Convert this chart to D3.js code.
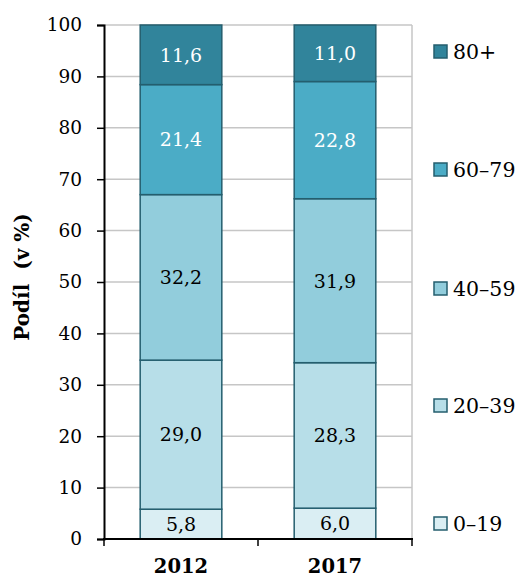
<!DOCTYPE html>
<meta charset="utf-8">
<style>
body { margin: 0; background: #fff; }
text { font-family: "DejaVu Serif", serif; }
</style>
<svg id="chart" width="522" height="579"></svg>
<script src="https://cdn.jsdelivr.net/npm/d3@7"></script>
<script>
var years = ["2012", "2017"];
var groups = ["0–19", "20–39", "40–59", "60–79", "80+"];
var values2012 = [5.8, 29.0, 32.2, 21.4, 11.6];
var values2017 = [6.0, 28.3, 31.9, 22.8, 11.0];
var yTicks = [0, 10, 20, 30, 40, 50, 60, 70, 80, 90, 100];

var colors = ["#daeef3", "#b7dee8", "#92cddc", "#4bacc6", "#31849b"];
var labelColors = ["#000", "#000", "#000", "#fff", "#fff"];

var svg = d3.select("#chart"),
  plotLeft = 104, plotRight = 412, plotTop = 25, plotBottom = 539;

var x = d3.scaleBand().domain(years).range([plotLeft, plotRight]).paddingInner(0.47).paddingOuter(0.235);
var y = d3.scaleLinear().domain([0, 100]).range([plotBottom, plotTop]);

// grid
svg.append("g").selectAll("line").data(yTicks.slice(1)).enter().append("line")
  .attr("x1", plotLeft).attr("x2", plotRight)
  .attr("y1", function(d){ return y(d); }).attr("y2", function(d){ return y(d); })
  .attr("stroke", "#c6c6c6").attr("stroke-width", 1.5);
svg.append("line").attr("x1", plotRight).attr("x2", plotRight).attr("y1", plotTop).attr("y2", plotBottom)
  .attr("stroke", "#c6c6c6").attr("stroke-width", 1.5);

var rows = years.map(function(yr, i){
  var vals = i == 0 ? values2012 : values2017;
  var acc = 0;
  return vals.map(function(v, k){
    var r = {year: yr, k: k, v: v, y0: acc, y1: acc + v};
    acc += v;
    return r;
  });
});
var segs = [].concat.apply([], rows);

svg.append("g").selectAll("rect").data(segs).enter().append("rect")
  .attr("x", function(d){ return x(d.year); })
  .attr("width", x.bandwidth())
  .attr("y", function(d){ return y(d.y1); })
  .attr("height", function(d){ return y(d.y0) - y(d.y1); })
  .attr("fill", function(d){ return colors[d.k]; })
  .attr("stroke", "#245e6e").attr("stroke-width", 1.5);

svg.append("g").selectAll("text").data(segs).enter().append("text")
  .attr("x", function(d){ return x(d.year) + x.bandwidth() / 2; })
  .attr("y", function(d){ return y((d.y0 + d.y1) / 2); })
  .attr("dy", "0.36em")
  .attr("text-anchor", "middle")
  .attr("font-size", 19)
  .attr("fill", function(d){ return labelColors[d.k]; })
  .text(function(d){ return d.v.toFixed(1).replace(".", ","); });

// y axis
var yAxis = svg.append("g").attr("transform", "translate(" + plotLeft + ",0)")
  .call(d3.axisLeft(y).tickValues(yTicks).tickSize(7).tickPadding(15));
yAxis.select(".domain").attr("stroke", "#000").attr("stroke-width", 2);
yAxis.selectAll(".tick line").attr("stroke", "#000").attr("stroke-width", 1.5);
yAxis.selectAll("text").attr("font-size", 18.5).attr("fill", "#000")
  .attr("font-family", "DejaVu Serif, serif");

// x axis
svg.append("line").attr("x1", plotLeft - 1).attr("x2", plotRight + 1).attr("y1", plotBottom).attr("y2", plotBottom)
  .attr("stroke", "#000").attr("stroke-width", 2);
svg.append("g").selectAll("line").data([plotLeft, (plotLeft + plotRight) / 2, plotRight]).enter().append("line")
  .attr("x1", function(d){ return d; }).attr("x2", function(d){ return d; })
  .attr("y1", plotBottom).attr("y2", plotBottom + 7)
  .attr("stroke", "#000").attr("stroke-width", 1.5);
svg.append("g").selectAll("text").data(years).enter().append("text")
  .attr("x", function(d){ return x(d) + x.bandwidth() / 2; })
  .attr("y", 573)
  .attr("text-anchor", "middle")
  .attr("font-size", 19.5).attr("font-weight", "bold")
  .text(function(d){ return d; });

// y title
svg.append("text")
  .attr("transform", "translate(29,277) rotate(-90)")
  .attr("text-anchor", "middle")
  .attr("font-size", 20).attr("font-weight", "bold")
  .attr("xml:space", "preserve")
  .text("Podíl  (v %)");

// legend
var legendY = [524, 406, 289, 170, 52];
var lg = svg.append("g").selectAll("g").data(groups).enter().append("g")
  .attr("transform", function(d, i){ return "translate(434," + legendY[i] + ")"; });
lg.append("rect").attr("x", 0).attr("y", -7).attr("width", 13).attr("height", 13)
  .attr("fill", function(d, i){ return colors[i]; })
  .attr("stroke", "#245e6e").attr("stroke-width", 1.5);
lg.append("text").attr("x", 19).attr("dy", "0.36em")
  .attr("font-size", 20.5)
  .text(function(d){ return d; });
</script>
